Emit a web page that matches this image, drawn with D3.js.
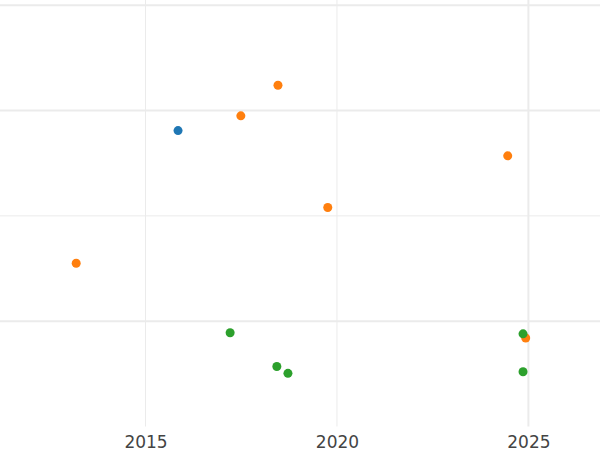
<!DOCTYPE html>
<html>
<head>
<meta charset="utf-8">
<script src="https://cdn.jsdelivr.net/npm/d3@7"></script>
<style>
  html, body { margin: 0; padding: 0; background: #fff; }
  svg { display: block; }
</style>
</head>
<body>
<svg id="chart" width="600" height="450"></svg>
<script>
// ---- data ----
const seriesNames = ["A", "B", "C"];
const seriesA_x = [2015.85];
const seriesA_y = [28.1];
const seriesB_x = [2017.49, 2018.46, 2024.46, 2019.76, 2013.19, 2024.93];
const seriesB_y = [29.5, 32.4, 25.7, 20.8, 15.5, 8.4];
const seriesC_x = [2017.21, 2018.43, 2018.72, 2024.86, 2024.86];
const seriesC_y = [8.9, 5.7, 5.05, 8.8, 5.2];
const xTicks = [2015, 2020, 2025];
const yGridValues = [10, 20, 30, 40];
const xDomain = [2011.2, 2026.87];
const yDomain = [0, 40.5];

// ---- layout ----
const W = 600, H = 450;
const plot = { left: 0, right: 600, top: 0, bottom: 426.5 };
const colors = ["#1f77b4", "#ff7f0e", "#2ca02c"];

const svg = d3.select("#chart");
const x = d3.scaleLinear().domain(xDomain).range([plot.left, plot.right]);
const y = d3.scaleLinear().domain(yDomain).range([plot.bottom, plot.top]);

const grid = svg.append("g");
grid.selectAll("line.h").data(yGridValues).join("line")
  .attr("x1", plot.left).attr("x2", plot.right)
  .attr("y1", d => y(d)).attr("y2", d => y(d))
  .attr("stroke", "#ebebeb")
  .attr("stroke-width", d => d === 20 ? 1 : 2);
grid.selectAll("line.v").data(xTicks).join("line")
  .attr("y1", plot.top).attr("y2", plot.bottom)
  .attr("x1", d => x(d)).attr("x2", d => x(d))
  .attr("stroke", "#ebebeb")
  .attr("stroke-width", d => d === 2025 ? 2 : 1);

// x axis labels via d3 axis
const xAxis = d3.axisBottom(x).tickValues(xTicks).tickFormat(d3.format("d")).tickSize(0).tickPadding(0);
const ax = svg.append("g").attr("transform", `translate(0,${plot.bottom})`).call(xAxis);
ax.select(".domain").remove();
ax.selectAll("text")
  .attr("dy", null)
  .attr("y", 21)
  .attr("font-family", "DejaVu Sans, sans-serif")
  .attr("font-size", 17)
  .attr("fill", "#444")
  .attr("dominant-baseline", "auto");

const series = [
  { xs: seriesA_x, ys: seriesA_y },
  { xs: seriesB_x, ys: seriesB_y },
  { xs: seriesC_x, ys: seriesC_y }
];
series.forEach((s, i) => {
  const pts = s.xs.map((xv, j) => [xv, s.ys[j]]);
  svg.append("g").selectAll("circle").data(pts).join("circle")
    .attr("cx", d => x(d[0]))
    .attr("cy", d => y(d[1]))
    .attr("r", 4.5)
    .attr("fill", colors[i]);
});
</script>
</body>
</html>
